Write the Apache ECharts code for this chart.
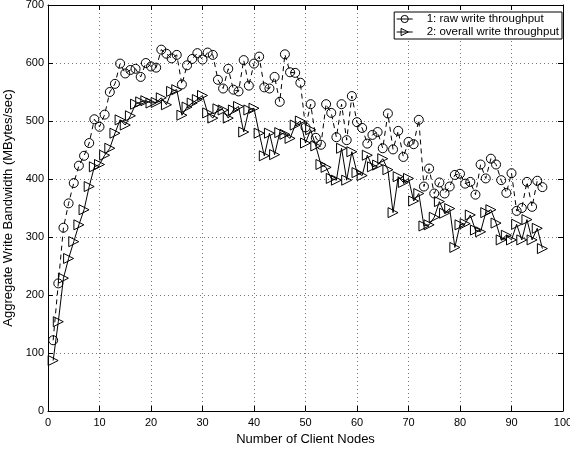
<!DOCTYPE html>
<html><head><meta charset="utf-8">
<script src="https://cdn.jsdelivr.net/npm/echarts@6/dist/echarts.min.js"></script>
<style>html,body{margin:0;padding:0;background:#fff}#c{width:570px;height:449px}</style>
</head><body><div id="c"></div>
<script>
const nodes = Array.from({length: 96}, (_, i) => i + 1);
const rawWrite = [122,220,316,358,393,423,440,462,503,490,
511,550,564,599,582,588,590,576,600,594,
592,623,616,608,614,563,596,607,617,606,
618,614,571,556,590,554,551,605,561,599,
611,558,556,576,533,615,584,583,566,489,
529,471,459,529,514,472,529,467,543,498,
488,461,476,481,453,513,451,483,438,464,
460,502,387,418,375,394,375,387,407,409,
392,395,373,425,401,435,425,398,376,410,
345,350,395,352,397,386];
const overallWrite = [87,154,229,263,292,321,347,387,421,425,
441,453,479,502,493,509,529,533,535,531,
532,540,528,551,554,510,524,531,537,544,
514,505,521,519,505,519,525,481,519,522,
479,440,479,442,480,477,470,493,500,462,
485,457,425,420,401,398,453,398,447,411,
406,441,421,424,435,416,342,404,394,401,
362,375,319,321,334,361,341,349,282,321,
323,338,312,309,342,347,324,295,303,295,
322,295,330,295,315,280];
const xTicks = [0,10,20,30,40,50,60,70,80,90,100];
const yTicks = [0,100,200,300,400,500,600,700];
const seriesNames = ['1: raw write throughput', '2: overall write throughput'];

const FONT = '"Liberation Sans", Arial, sans-serif';
const chart = echarts.init(document.getElementById('c'), null, {renderer: 'canvas'});
const pair = arr => arr.map((v, i) => [nodes[i], v]);
const tri = 'path://M0,0 L10,5 L0,10 Z';
const axCommon = {
  axisLine: {show: true, onZero: false, lineStyle: {color: '#000', width: 1}},
  axisTick: {show: true, inside: true, length: 5, lineStyle: {color: '#000'}},
};
chart.setOption({
  animation: false,
  backgroundColor: '#fff',
  textStyle: {fontFamily: FONT},
  grid: {left: 48, right: 7, top: 5, bottom: 38, containLabel: false, outerBoundsMode: 'none'},
  legend: {
    show: true, orient: 'vertical', right: 8, top: 12,
    data: seriesNames,
    itemWidth: 16, itemHeight: 9, itemGap: 1,
    padding: [1, 3, 1, 2],
    borderColor: '#000', borderWidth: 1, backgroundColor: '#fff',
    itemStyle: {color: 'rgba(0,0,0,0)', borderColor: '#000', borderWidth: 1},
    lineStyle: {width: 1, color: '#000', type: 'solid'},
    textStyle: {fontFamily: FONT, fontSize: 11.5, lineHeight: 12, color: '#000', padding: [0,0,0,9]}
  },
  xAxis: [
    Object.assign({}, axCommon, {
      type: 'value', min: xTicks[0], max: xTicks[xTicks.length-1], interval: 10,
      name: 'Number of Client Nodes', nameLocation: 'middle', nameGap: 21,
      nameTextStyle: {fontFamily: FONT, fontSize: 13, color: '#000'},
      axisLabel: {color: '#000', fontSize: 11, fontFamily: FONT, margin: 6},
      splitLine: {show: true, lineStyle: {color: '#777', type: [1, 3], width: 1}}
    }),
    Object.assign({}, axCommon, {
      type: 'value', position: 'top', min: xTicks[0], max: xTicks[xTicks.length-1], interval: 10,
      axisLabel: {show: false}, splitLine: {show: false}
    })
  ],
  yAxis: [
    Object.assign({}, axCommon, {
      type: 'value', min: yTicks[0], max: yTicks[yTicks.length-1], interval: 100,
      name: 'Aggregate Write Bandwidth (MBytes/sec)', nameLocation: 'middle', nameGap: 27,
      nameTextStyle: {fontFamily: FONT, fontSize: 13, color: '#000'},
      axisLabel: {color: '#000', fontSize: 11, fontFamily: FONT, margin: 4},
      splitLine: {show: true, lineStyle: {color: '#777', type: [1, 3], width: 1}}
    }),
    Object.assign({}, axCommon, {
      type: 'value', position: 'right', min: yTicks[0], max: yTicks[yTicks.length-1], interval: 100,
      axisLabel: {show: false}, splitLine: {show: false}
    })
  ],
  series: [
    {
      name: seriesNames[0], type: 'line', data: pair(rawWrite),
      symbol: 'circle', symbolSize: 9, showAllSymbol: true,
      lineStyle: {color: '#000', width: 1, type: [5, 4]},
      itemStyle: {color: 'rgba(0,0,0,0)', borderColor: '#000', borderWidth: 1}
    },
    {
      name: seriesNames[1], type: 'line', data: pair(overallWrite),
      symbol: tri, symbolSize: [10, 10], showAllSymbol: true,
      lineStyle: {color: '#000', width: 1},
      itemStyle: {color: 'rgba(0,0,0,0)', borderColor: '#000', borderWidth: 1}
    }
  ]
});
</script></body></html>
